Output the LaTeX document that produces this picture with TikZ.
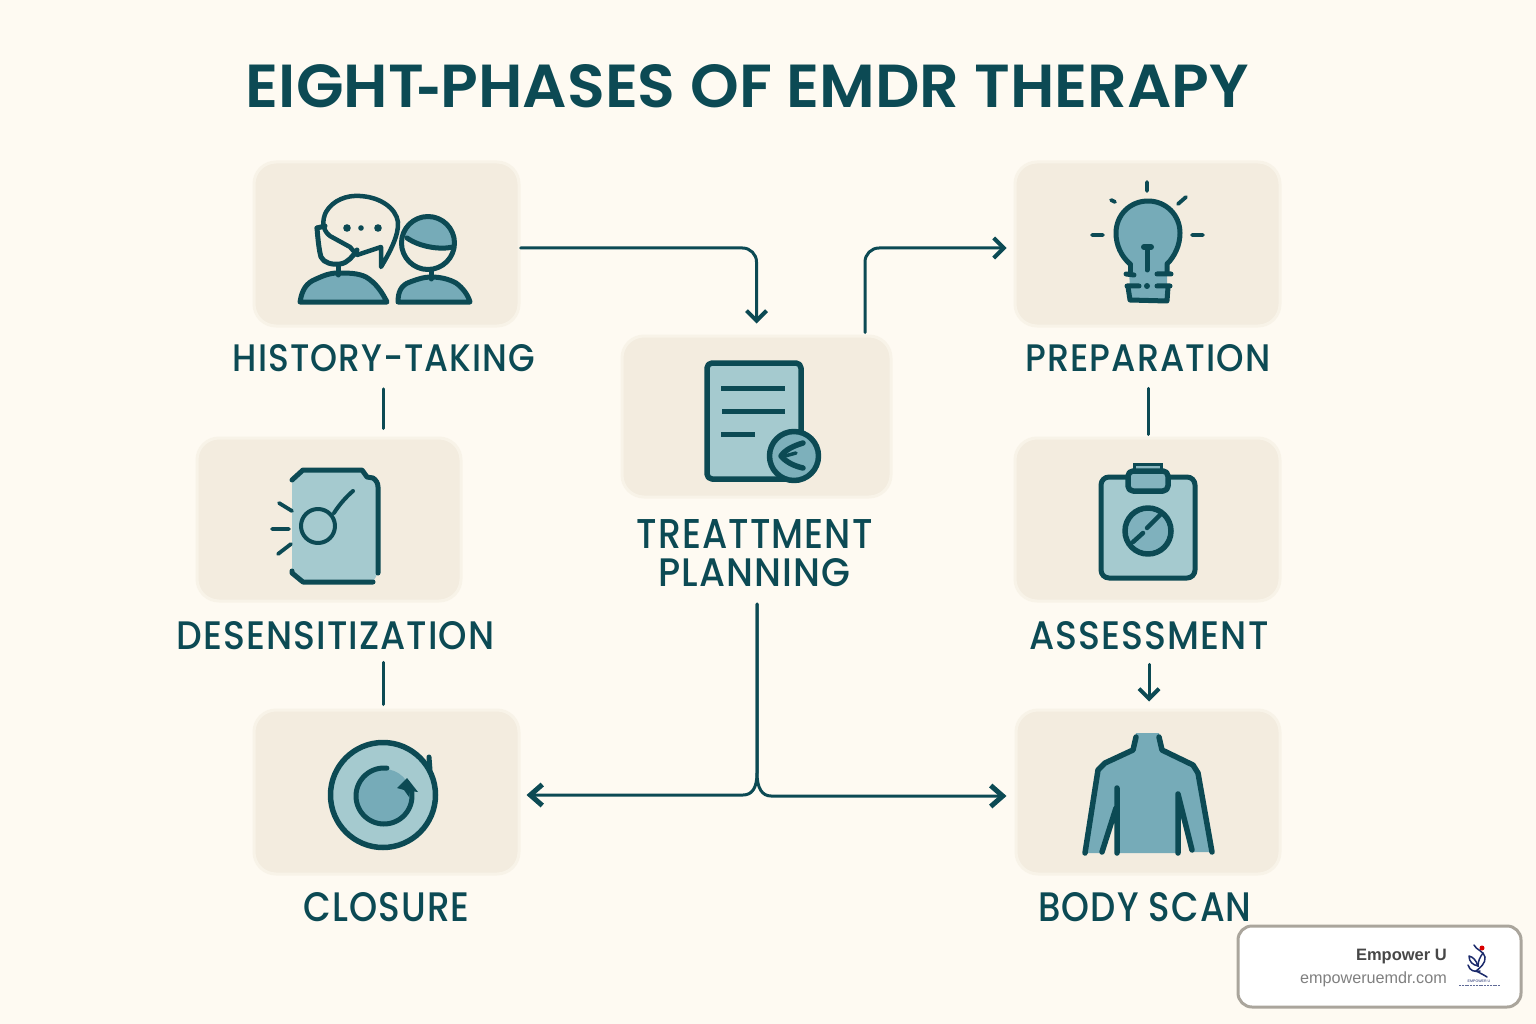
\documentclass[tikz,border=0pt]{standalone}
\usepackage{graphicx}
\usepackage{fontspec}
\setmainfont{Liberation Sans}
\newfontfamily\labfont{Poppins}[UprightFont=* Medium,BoldFont=* SemiBold,LetterSpace=3]
\newfontfamily\titlefont{Poppins}[UprightFont=* SemiBold]
\usetikzlibrary{arrows.meta}
\definecolor{bgc}{HTML}{FEFAF2}
\definecolor{boxc}{HTML}{F3ECDF}
\definecolor{boxe}{HTML}{F8F3E8}
\definecolor{ink}{HTML}{0C4A54}
\definecolor{pale}{HTML}{A5CACF}
\definecolor{mid}{HTML}{76ABB8}
\definecolor{navy}{HTML}{1B2A6B}
\newcommand\fitlab[3]{\resizebox{#1pt}{#2pt}{#3}}
\tikzset{
  x=1pt,y=-1pt,
  boxst/.style={rectangle,rounded corners=22,fill=boxc,draw=boxe,line width=3,minimum width=#1,inner sep=0},
  boxst/.default=265,
  lab/.style={inner sep=0,text=ink,font=\labfont},
  conn/.style={draw=ink,line width=3,line cap=round,line join=round},
  tipb/.style={-{Straight Barb[length=10,width=20,line width=4]}},
  tipl/.style={-{Straight Barb[length=12,width=21,line width=5]}},
  icon/.style={draw=ink,line width=5,line cap=round,line join=round},
  thin icon/.style={draw=ink,line width=3.8,line cap=round,line join=round},
}
\begin{document}
\begin{tikzpicture}
\useasboundingbox (0,0) rectangle (1536,1024);
\fill[bgc] (0,0) rectangle (1536,1024);

% title
\node[lab,font=\titlefont] (title) at (747.5,88.5) {\fitlab{1003}{43}{EIGHT\kern-1.2pt\raisebox{-0.8pt}{\scalebox{0.7}[1]{-}}\kern-0.2pt PHASES OF EMDR THERAPY}};

% boxes
\node[boxst,minimum height=164] (hist) at (386.5,244) {};
\node[boxst,minimum height=164] (prep) at (1147.5,244) {};
\node[boxst=269,minimum height=161] (plan) at (756.5,416.5) {};
\node[boxst=264,minimum height=163] (desens) at (329,519.5) {};
\node[boxst,minimum height=163] (assess) at (1147.5,519.5) {};
\node[boxst,minimum height=164] (closure) at (386.5,792) {};
\node[boxst=264,minimum height=164] (scan) at (1148,792) {};

% labels
\node[lab] (histl) at (384,358) {\fitlab{302}{27}{HISTORY-TAKING}};
\node[lab] (prepl) at (1148,358.5) {\fitlab{245}{27}{PREPARATION}};
\node[lab] (planl) at (754.5,533.5) {\fitlab{236}{29}{TREATTMENT}};
\node[lab] (planm) at (754.5,573) {\fitlab{192}{28}{PLANNING}};
\node[lab] (desl) at (335.5,636) {\fitlab{318}{28}{DESENSITIZATION}};
\node[lab] (assl) at (1149,636) {\fitlab{239}{28}{ASSESSMENT}};
\node[lab] (closl) at (386.5,907.5) {\fitlab{166}{29}{CLOSURE}};
\node[lab] (scanl) at (1145,907.5) {\fitlab{213}{29}{BODY SCAN}};

% connectors
\draw[conn,tipb,rounded corners=14] ([shift={(0,4)}]hist.east) -| ([shift={(0,-11)}]plan.north);
\draw[conn,tipb,rounded corners=14] ([shift={(108.5,-2)}]plan.north) |- ([shift={(-7,4)}]prep.west);
\draw[conn] ([shift={(-1,17)}]histl.south) -- ([shift={(54,-8)}]desens.north);
\draw[conn] ([shift={(0,16)}]prepl.south) -- ([shift={(0.5,-2)}]assess.north);
\draw[conn] ([shift={(47.5,12)}]desl.south) -- ([shift={(-3.5,-4)}]closure.north);
\draw[conn,tipb] ([shift={(0,14)}]assl.south) -- ([shift={(1,-7)}]scan.north);
\coordinate (trunk) at (757,604);
\draw[conn,tipl] (trunk) -- (757,773) .. controls (757,788) and (752,795) .. (743,795) -- ([shift={(6,3)}]closure.east);
\draw[conn,tipl] (trunk) -- (757,773) .. controls (757,788) and (762,796) .. (771,796) -- ([shift={(-8,4)}]scan.west);

% --- history icon
\filldraw[fill=mid,icon] (300,302) .. controls (302,290) and (306,283) .. (316,279) .. controls (325,275) and (330,273) .. (338,273) .. controls (348,273) and (358,273) .. (366,277) .. controls (376,283) and (382,292) .. (387,302) -- cycle;
\filldraw[fill=mid,icon] (398,302) .. controls (398,292) and (401,285) .. (410,282) .. controls (418,279) and (424,277) .. (431,277) .. controls (440,277) and (449,279) .. (456,283) .. controls (463,288) and (468,295) .. (470,302) -- cycle;
\draw[icon] (338,265) -- (338,275);
\draw[icon] (431,270) -- (431,279);
\begin{scope}
\clip (428,243) circle[radius=26.5];
\fill[mid] (395,232) -- (407,238) .. controls (420,247) and (440,250) .. (456,247) -- (460,210) -- (395,210) -- cycle;
\end{scope}
\draw[icon] (407,238) .. controls (420,247) and (440,250) .. (453,247);
\draw[icon] (428,243) circle[radius=26.5];
\draw[icon] (317,228) .. controls (318,240) and (319,250) .. (321,257) .. controls (324,263) and (332,265) .. (340,264) .. controls (348,263) and (353,256) .. (357,250);
\draw[icon] (317,228) -- (325,226);
\draw[icon,line width=4.5] (381,267) -- (381,247) -- (357,255) -- (350,247) -- (330,236) .. controls (322,230) and (322,220) .. (326,212) .. controls (333,200) and (347,195) .. (360,196) .. controls (380,197) and (396,208) .. (398,222) .. controls (399,235) and (390,252) .. (381,267) -- cycle;
\fill[ink] (347,228) circle[radius=3.8] (361,228) circle[radius=2.8] (378,228) circle[radius=3.8];

% --- plan icon
\filldraw[fill=pale,icon,line width=5.5,rounded corners=5] (707,363) rectangle (801,479);
\draw[icon,line cap=butt] (721,388) -- (785,388) (722,411) -- (785,411) (721,434) -- (755,434);
\filldraw[fill=mid!85!pale,icon,line width=5.5] (794,456) circle[radius=24.5];
\draw[icon,line width=5.5] (803,443) .. controls (793,446) and (785,450) .. (781,456) .. controls (786,462) and (794,466) .. (803,468);
\draw[icon,line width=3.5] (785,456) -- (796,453);

% --- bulb icon
\fill[mid] (1129,260) .. controls (1121,253) and (1116,244) .. (1116,233) .. controls (1116,215) and (1130,201) .. (1148,201) .. controls (1166,201) and (1180,215) .. (1180,233) .. controls (1180,244) and (1175,253) .. (1167,260) -- (1167,300) -- (1130,300) -- cycle;
\draw[icon] (1130,264) .. controls (1121,256) and (1116,245) .. (1116,233) .. controls (1116,215) and (1130,201) .. (1148,201) .. controls (1166,201) and (1180,215) .. (1180,233) .. controls (1180,245) and (1175,256) .. (1167,264) -- (1167,272);
\draw[icon] (1130,264) -- (1130,272);
\draw[icon] (1126,274) -- (1134,275) (1157,274) -- (1171,274) (1127,286) -- (1139,286) (1157,286) -- (1170,286);
\draw[icon] (1128,287) -- (1130,300) -- (1167,301) -- (1168,287);
\draw[icon,line width=6] (1144,247) -- (1151,247);
\draw[icon] (1147,247) -- (1147,270);
\fill[ink] (1147,286) circle[radius=3];
\draw[thin icon] (1147,182) -- (1147,191) (1111,200) -- (1115,202) (1178,204) -- (1186,197) (1092,235) -- (1103,235) (1192,235) -- (1203,235);

% --- desensitization icon
\fill[pale] (292,480) -- (303,470) -- (362,470) -- (367,477) -- (373,478) -- (378,485) -- (378,573) -- (373,582) -- (303,582) -- (292,573) -- cycle;
\draw[icon] (292,480) -- (303,470) -- (362,470) -- (367,477) -- (373,478) .. controls (376,480) and (378,483) .. (378,487) -- (378,573);
\draw[icon] (373,582) -- (303,582) -- (292,573) -- (292,571);
\draw[icon,line width=4] (318,526) circle[radius=17];
\draw[icon,line width=4] (334,513) .. controls (339,505) and (346,497) .. (353,491);
\draw[thin icon] (279,503) -- (292,511) (272,529) -- (289,529) (278,554) -- (291,544);

% --- assessment icon
\filldraw[fill=pale,icon,rounded corners=8] (1101,477) rectangle (1195,578);
\filldraw[fill=mid!60!pale,draw=ink,line width=3] (1134,470) rectangle (1161,464);
\filldraw[fill=mid!70!pale,icon,line width=5.5,rounded corners=5] (1128,471) rectangle (1168,491);
\filldraw[fill=mid!80!pale,icon,line width=5.5] (1148,531) circle[radius=23];
\draw[icon,line width=4.5] (1162,513) -- (1147,528) (1143,533) -- (1133,542);

% --- closure icon
\filldraw[fill=pale,icon,line width=5.5] (383,795) circle[radius=52.5];
\fill[mid] (384,796) circle[radius=27];
\draw[icon] plot[domain=-368:-84,samples=50] ({384+28*cos(\x)},{796+28*sin(\x)});
\fill[ink] (407,778) -- (418,792) -- (410,791) -- (409,797) -- (404,790) -- (397,788) -- cycle;
\draw[icon] (429,757) -- (430,770);

% --- body icon
\fill[mid] (1085,853) -- (1098,770) -- (1105,763) -- (1133,750) -- (1136,733) -- (1159,733) -- (1162,750) -- (1193,765) -- (1198,773) -- (1212,852) -- (1192,852) -- (1181,818) -- (1178,853) -- (1117,853) -- (1116,815) -- (1102,853) -- cycle;
\draw[icon,line width=5.5] (1085,853) -- (1098,770) -- (1105,763) -- (1133,750) -- (1136,737);
\draw[icon,line width=5.5] (1159,737) -- (1162,750) -- (1193,765) -- (1198,773) -- (1212,852);
\draw[icon,line width=5.5] (1117,788) -- (1117,853) (1116,808) -- (1102,852);
\draw[icon,line width=5.5] (1178,794) -- (1178,853) (1178,794) -- (1192,850);

% --- badge
\node[rectangle,rounded corners=14,fill=white,draw=black!30!boxc,line width=3,minimum width=283,minimum height=81,inner sep=0] (badge) at (1379.5,966.5) {};
\node[anchor=base east,inner sep=0,text=black!72,font=\bfseries\fontsize{16.5}{17}\selectfont] (bname) at (1447,960) {Empower U};
\node[anchor=base east,inner sep=0,text=black!50,font=\fontsize{16.2}{17}\selectfont] (burl) at (1447,983) {empoweruemdr.com};
\fill[red!85!black] (1482,948) circle[radius=2.5];
\draw[navy,line width=1.5,line cap=round] (1474,945) .. controls (1476,950) and (1484,951) .. (1485,957) .. controls (1486,963) and (1480,968) .. (1476,971) .. controls (1480,973) and (1484,975) .. (1487,977);
\draw[navy,line width=1.5,line cap=round] (1469,956) .. controls (1469,962) and (1473,965) .. (1478,966) .. controls (1476,960) and (1473,957) .. (1469,956);
\draw[navy,line width=1.5,line cap=round] (1478,966) .. controls (1478,961) and (1480,957) .. (1483,953);
\draw[navy,line width=1.5,line cap=round] (1468,965) .. controls (1470,971) and (1474,972) .. (1480,971);
\node[inner sep=0,text=navy,font=\fontsize{3.6}{4}\selectfont] (blogo) at (1479,981.5) {EMPOWER U};
\draw[navy!70,line width=1.1,dash pattern=on 2pt off 0.8pt] (1459,985.5) -- (1500,985.5);
\end{tikzpicture}
\end{document}
